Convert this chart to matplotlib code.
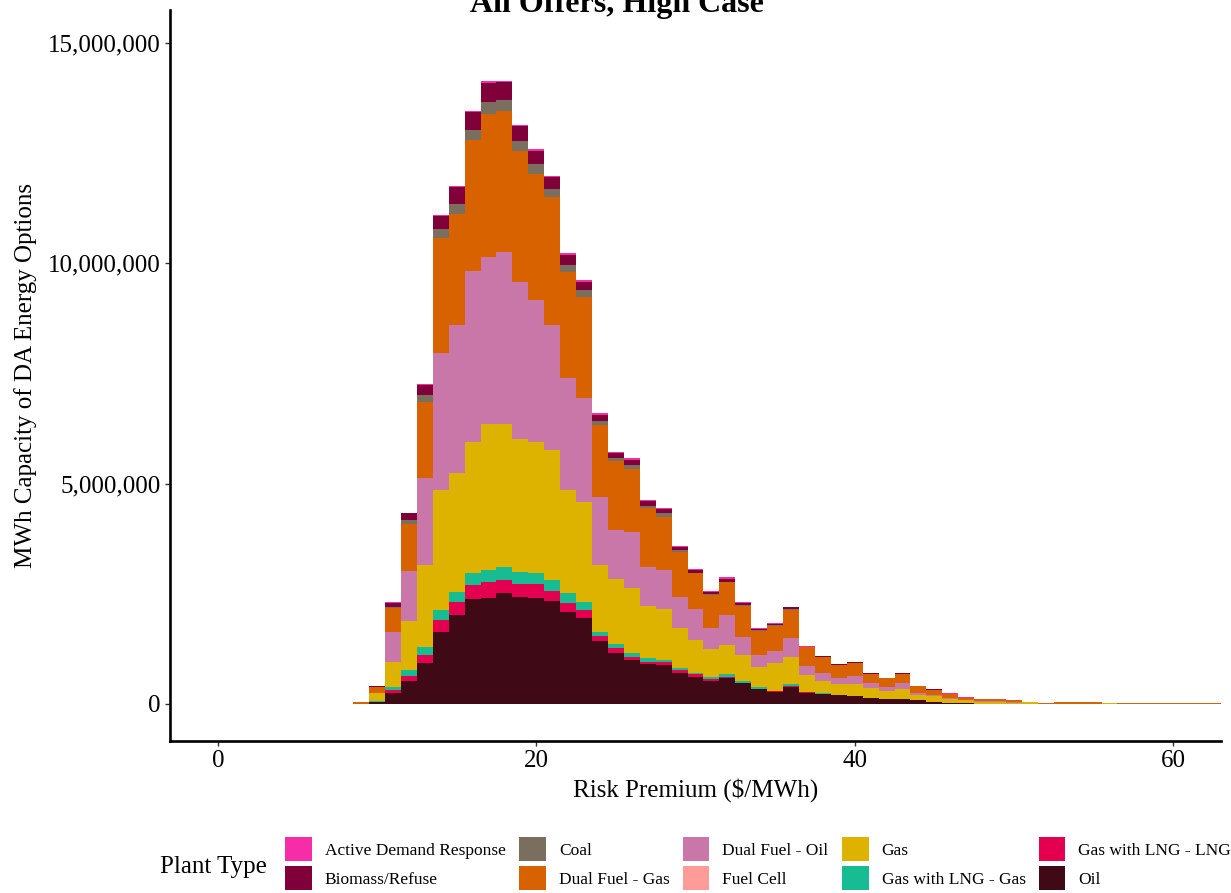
import numpy as np
import matplotlib
matplotlib.use("Agg")
import matplotlib.pyplot as plt
from matplotlib.patches import Patch
from matplotlib.ticker import FuncFormatter

plt.rcParams['font.family'] = ['Liberation Serif', 'DejaVu Serif']

# $1/MWh bins, centred on whole dollars
bins = list(range(9, 64))

# MWh per bin, in millions, one list per plant type
oil = [0, 0.05, 0.24, 0.53, 0.94, 1.64, 2.02, 2.37, 2.40, 2.51, 2.43, 2.40, 2.34, 2.09, 1.94,
       1.43, 1.16, 1.00, 0.91, 0.88, 0.70, 0.62, 0.53, 0.58, 0.47, 0.33, 0.28, 0.38, 0.26, 0.23,
       0.20, 0.18, 0.13, 0.11, 0.11, 0.09, 0.04, 0.02, 0.02, 0.01, 0.01,
       0, 0, 0, 0, 0, 0, 0, 0, 0, 0, 0, 0, 0, 0]
lng_lng = [0, 0, 0.08, 0.10, 0.17, 0.26, 0.30, 0.33, 0.37, 0.30, 0.30, 0.32, 0.23, 0.19, 0.19,
           0.11, 0.10, 0.06, 0.05, 0.08, 0.06, 0.05, 0.03, 0.04, 0.01, 0.01, 0.01, 0.03, 0.01,
           0, 0, 0, 0, 0, 0, 0, 0, 0, 0, 0, 0, 0, 0, 0, 0, 0, 0, 0, 0, 0, 0, 0, 0, 0, 0]
lng_gas = [0, 0.02, 0.06, 0.13, 0.19, 0.23, 0.23, 0.28, 0.27, 0.30, 0.27, 0.25, 0.24, 0.23, 0.19,
           0.10, 0.10, 0.09, 0.08, 0.04, 0.05, 0.04, 0.05, 0.06, 0.05, 0.04, 0.01, 0.04, 0.01,
           0.01, 0.01, 0.01,
           0, 0, 0, 0, 0, 0, 0, 0, 0, 0, 0, 0, 0, 0, 0, 0, 0, 0, 0, 0, 0, 0, 0]
gas = [0, 0.17, 0.58, 1.13, 1.85, 2.72, 2.68, 2.97, 3.32, 3.25, 3.02, 2.98, 2.95, 2.34, 2.25,
       1.51, 1.47, 1.47, 1.18, 1.15, 0.91, 0.73, 0.63, 0.66, 0.58, 0.45, 0.62, 0.61, 0.38, 0.29,
       0.24, 0.26, 0.23, 0.19, 0.22, 0.11, 0.15, 0.10, 0.06, 0.04, 0.04, 0.03, 0.04, 0.01, 0.01,
       0.01, 0.01, 0.02, 0.01, 0.01, 0.01, 0.01, 0.01, 0.01, 0.01]
fuel_cell = [0] * len(bins)
df_oil = [0.01, 0.02, 0.67, 1.13, 1.97, 3.10, 3.36, 3.88, 3.78, 3.90, 3.56, 3.21, 2.83, 2.55, 2.37,
          1.55, 1.12, 1.27, 0.88, 0.89, 0.70, 0.71, 0.48, 0.68, 0.42, 0.28, 0.27, 0.43, 0.20, 0.18,
          0.13, 0.19, 0.11, 0.09, 0.14, 0.06, 0.01, 0.01, 0.01, 0.01, 0.01, 0.01,
          0, 0, 0, 0, 0, 0, 0, 0, 0, 0, 0, 0, 0]
df_gas = [0.03, 0.12, 0.54, 1.06, 1.72, 2.61, 2.53, 2.96, 3.25, 3.19, 2.97, 2.87, 2.90, 2.40, 2.28,
          1.62, 1.55, 1.43, 1.34, 1.21, 1.03, 0.81, 0.75, 0.74, 0.70, 0.55, 0.58, 0.64, 0.43, 0.35,
          0.30, 0.29, 0.22, 0.19, 0.22, 0.14, 0.12, 0.10, 0.05, 0.05, 0.05, 0.04, 0.01, 0.02, 0.04,
          0.04, 0.04, 0.01, 0.01, 0.01, 0.01, 0.01, 0.01, 0.01, 0.01]
coal = [0, 0.01, 0.04, 0.09, 0.17, 0.21, 0.23, 0.22, 0.27, 0.26, 0.22, 0.21, 0.18, 0.15, 0.17,
        0.10, 0.09, 0.10, 0.05, 0.07, 0.04, 0.02, 0.03, 0.01, 0.02, 0.01, 0.02, 0.02,
        0, 0, 0, 0, 0, 0, 0, 0, 0, 0, 0, 0, 0, 0, 0, 0, 0, 0, 0, 0, 0, 0, 0, 0, 0, 0, 0]
biomass = [0, 0.02, 0.08, 0.15, 0.22, 0.30, 0.37, 0.41, 0.43, 0.40, 0.34, 0.31, 0.28, 0.24, 0.19,
           0.14, 0.10, 0.12, 0.11, 0.10, 0.06, 0.06, 0.04, 0.07, 0.04, 0.03, 0.03, 0.04, 0.01,
           0.02, 0.02, 0.02, 0.01, 0.01, 0.01, 0, 0.01,
           0, 0, 0, 0, 0, 0, 0, 0, 0, 0, 0, 0, 0, 0, 0, 0, 0, 0]
demand_resp = [0, 0, 0.02, 0.02, 0.03, 0.03, 0.03, 0.03, 0.03, 0.03, 0.03, 0.03, 0.03, 0.03, 0.03,
               0.03, 0.03, 0.03, 0.03, 0.03, 0.03, 0.03, 0.03, 0.03, 0.03, 0.02, 0.02, 0.02, 0.01,
               0.01, 0.01, 0.01, 0.01, 0.01, 0.01, 0.01, 0, 0.01, 0.01, 0.01,
               0, 0, 0, 0, 0, 0, 0, 0, 0, 0, 0, 0, 0, 0, 0]

plant_types = ['Active Demand Response', 'Biomass/Refuse', 'Coal', 'Dual Fuel - Gas',
               'Dual Fuel - Oil', 'Fuel Cell', 'Gas', 'Gas with LNG - Gas',
               'Gas with LNG - LNG', 'Oil']
colors = ['#F72DA8', '#80003A', '#7A6F5E', '#D96200', '#C977A8',
          '#FF9C97', '#DDB300', '#17BC93', '#E5004F', '#3F0A16']
series = [demand_resp, biomass, coal, df_gas, df_oil, fuel_cell, gas, lng_gas, lng_lng, oil]
for s in series:
    assert len(s) == len(bins)

fig = plt.figure(figsize=(12.31, 8.93), dpi=100)
ax = fig.add_axes([170 / 1231, 152 / 893, 1051 / 1231, 731 / 893])

# stack from the bottom (Oil) up to Active Demand Response
bottom = np.zeros(len(bins))
for name, col, vals in reversed(list(zip(plant_types, colors, series))):
    v = np.array(vals) * 1e6
    ax.bar(bins, v, width=1.0, bottom=bottom, color=col, linewidth=0)
    bottom += v

ax.set_xlim(-3.0, 63.0)
ax.set_ylim(-0.84e6, 15.74e6)
ax.set_xticks([0, 20, 40, 60])
ax.set_yticks([0, 5e6, 10e6, 15e6])
ax.yaxis.set_major_formatter(FuncFormatter(lambda v, p: f'{int(v):,}'))

for side in ['top', 'right']:
    ax.spines[side].set_visible(False)
for side in ['left', 'bottom']:
    ax.spines[side].set_linewidth(1.9)
    ax.spines[side].set_color('black')
ax.tick_params(direction='out', length=3.5, width=1.0, color='#333333',
               labelsize=18, labelcolor='black', pad=3)

ax.set_xlabel('Risk Premium ($/MWh)', fontsize=18, labelpad=4)
ax.set_ylabel('MWh Capacity of DA Energy Options', fontsize=18, labelpad=8)

fig.text(617 / 1231, 1 - 12 / 893, 'All Offers, High Case', fontsize=23,
         fontweight='bold', ha='center', va='baseline')

handles = [Patch(facecolor=c, edgecolor='none') for c in colors]
fig.legend(handles, plant_types, ncol=5, loc='upper left',
           bbox_to_anchor=(285 / 1231, 1 - 837 / 893), frameon=False,
           fontsize=12.5, handlelength=1.55, handleheight=1.75,
           handletextpad=0.75, columnspacing=0.75, labelspacing=0.3,
           borderpad=0, borderaxespad=0)
fig.text(160 / 1231, 1 - 867 / 893, 'Plant Type', fontsize=18, ha='left', va='center')

fig.savefig('out.png', dpi=100)
